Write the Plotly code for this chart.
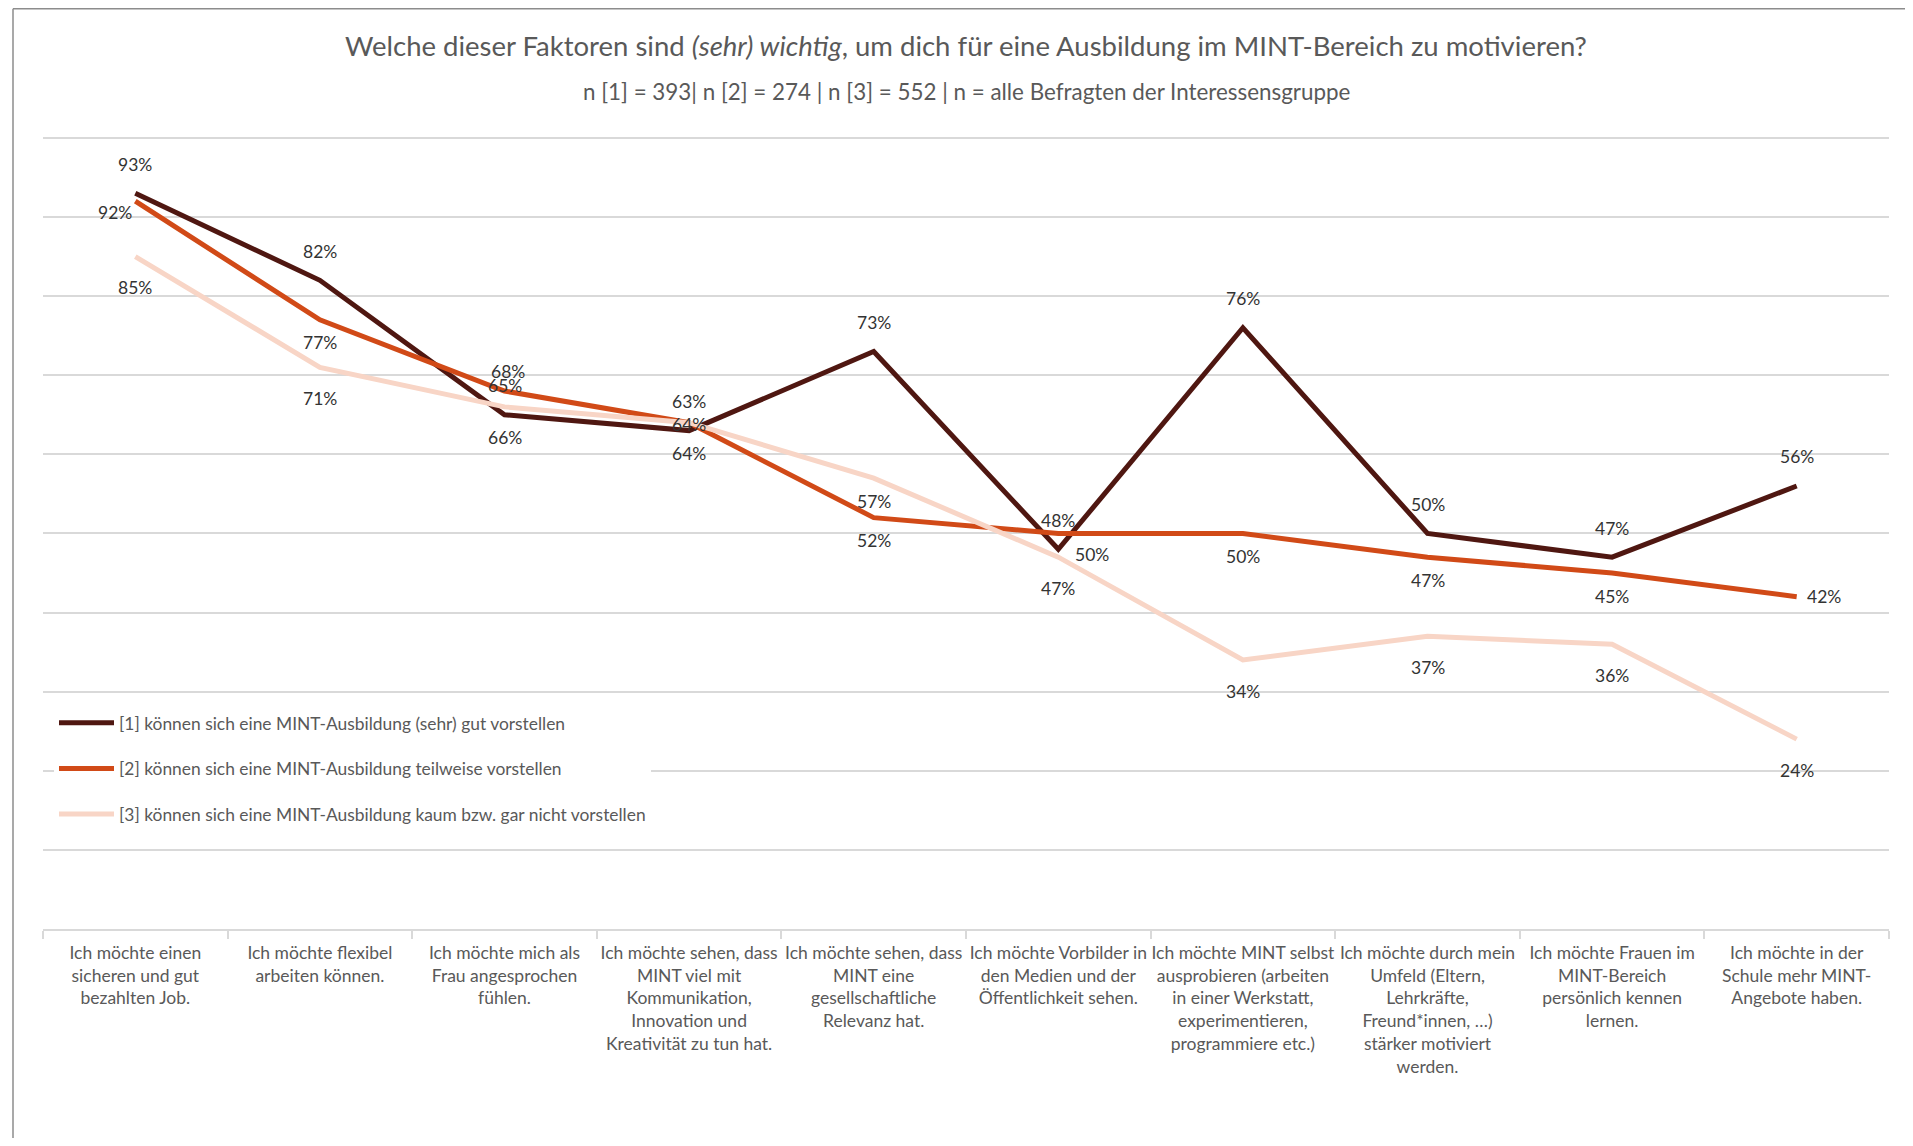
import plotly.graph_objects as go

kategorien = [
    "Ich möchte einen<br>sicheren und gut<br>bezahlten Job.",
    "Ich möchte flexibel<br>arbeiten können.",
    "Ich möchte mich als<br>Frau angesprochen<br>fühlen.",
    "Ich möchte sehen, dass<br>MINT viel mit<br>Kommunikation,<br>Innovation und<br>Kreativität zu tun hat.",
    "Ich möchte sehen, dass<br>MINT eine<br>gesellschaftliche<br>Relevanz hat.",
    "Ich möchte Vorbilder in<br>den Medien und der<br>Öffentlichkeit sehen.",
    "Ich möchte MINT selbst<br>ausprobieren (arbeiten<br>in einer Werkstatt,<br>experimentieren,<br>programmiere etc.)",
    "Ich möchte durch mein<br>Umfeld (Eltern,<br>Lehrkräfte,<br>Freund*innen, …)<br>stärker motiviert<br>werden.",
    "Ich möchte Frauen im<br>MINT-Bereich<br>persönlich kennen<br>lernen.",
    "Ich möchte in der<br>Schule mehr MINT-<br>Angebote haben.",
]

werte_1 = [93, 82, 65, 63, 73, 48, 76, 50, 47, 56]
werte_2 = [92, 77, 68, 64, 52, 50, 50, 47, 45, 42]
werte_3 = [85, 71, 66, 64, 57, 47, 34, 37, 36, 24]

namen = [
    "[1] können sich eine MINT-Ausbildung (sehr) gut vorstellen",
    "[2] können sich eine MINT-Ausbildung teilweise vorstellen",
    "[3] können sich eine MINT-Ausbildung kaum bzw. gar nicht vorstellen",
]
farben = ["#4f1711", "#d14a17", "#f8d5c6"]

# Lage der Datenbeschriftungen je Reihe (wie im Original teils von Hand verschoben)
lage_1 = ["oben"] * 10
lage_2 = ["links", "unten", "oben2", "mitte", "unten", "rechtsunten",
          "unten", "unten", "unten", "rechts"]
lage_3 = ["unten_weit"] * 4 + ["unten"] + ["unten_weit"] * 5
versatz = {  # xanchor, xshift, yshift
    "oben": ("center", 0, 29),
    "oben2": ("center", 3, 20),
    "unten": ("center", 0, -23),
    "unten_weit": ("center", 0, -31),
    "mitte": ("center", 0, -2),
    "links": ("right", -1, -11),
    "rechts": ("left", 8, 0),
    "rechtsunten": ("left", 15, -21),
}

# Seite hat 8px Rand (body), daher alles in Seitenpixeln rechnen und umrechnen
O = 8
W, H = 1913 - 2 * O, 1146 - 2 * O
Y_MAX = 101
L, R = 43 - O, W - (1889 - O)
B = H - (929 - O)
T = (929 - O) - round((929 - 138) * Y_MAX / 100)
pw, ph = W - L - R, H - T - B

def px_x(px):
    return (px - O - L) / pw

def px_y(py):
    return (H - B - (py - O)) / ph

grau = "#595959"
font = "Lato, Open Sans, sans-serif"

fig = go.Figure()
for werte, name, farbe in zip([werte_1, werte_2, werte_3], namen, farben):
    fig.add_trace(go.Scatter(
        x=kategorien, y=werte, mode="lines", name=name, legendgroup=name,
        line=dict(color=farbe, width=5), hoverinfo="skip",
    ))

for werte, lagen in zip([werte_1, werte_2, werte_3], [lage_1, lage_2, lage_3]):
    for kat, w, lg in zip(kategorien, werte, lagen):
        xa, xs, ys = versatz[lg]
        fig.add_annotation(
            x=kat, y=w, text=f"{w}%", showarrow=False,
            xanchor=xa, yanchor="middle", xshift=xs, yshift=ys,
            font=dict(family=font, size=17.5, color="#333333"),
        )

fig.add_annotation(
    text="n [1] = 393| n [2] = 274 | n [3] = 552 | n = alle Befragten der Interessensgruppe",
    xref="paper", yref="paper", x=0.5, y=px_y(92), showarrow=False,
    xanchor="center", yanchor="middle",
    font=dict(family=font, size=22.4, color=grau),
)

# Rahmen des Diagrammbereichs (oben und links)
rahmen = dict(color="#8c8c8c", width=1.5)
fig.add_shape(type="line", xref="paper", yref="paper",
              x0=px_x(13), x1=px_x(1913), y0=px_y(O + 0.8), y1=px_y(O + 0.8), line=rahmen)
fig.add_shape(type="line", xref="paper", yref="paper",
              x0=px_x(13), x1=px_x(13), y0=px_y(O + 0.8), y1=px_y(1146), line=rahmen)

fig.update_layout(
    width=W, height=H,
    margin=dict(l=L, r=R, t=T, b=B, autoexpand=False),
    paper_bgcolor="white", plot_bgcolor="white",
    font=dict(family=font, color=grau),
    title=dict(
        text="Welche dieser Faktoren sind <i>(sehr) wichtig</i>, um dich für eine Ausbildung im MINT-Bereich zu motivieren?",
        xref="paper", x=0.5, xanchor="center",
        yref="container", y=1 - (46 - O) / H, yanchor="middle",
        font=dict(family=font, size=27.5, color=grau),
    ),
    showlegend=True,
    legend=dict(
        x=px_x(54), y=px_y(705), xanchor="left", yanchor="top",
        bgcolor="white", font=dict(family=font, size=17.4, color=grau),
        itemwidth=55, tracegroupgap=20, traceorder="grouped",
    ),
    xaxis=dict(
        type="category", range=[-0.5, 9.5], tickangle=0, automargin=False,
        showgrid=False, showline=True, linecolor="#d9d9d9", linewidth=1.5,
        ticks="outside", tickson="boundaries", ticklen=8, tickcolor="#d9d9d9",
        tickwidth=1.5, tickfont=dict(family=font, size=17.5, color=grau),
        ticklabelstandoff=7, fixedrange=True,
    ),
    yaxis=dict(
        range=[0, Y_MAX], dtick=10, showticklabels=False, automargin=False,
        showgrid=True, gridcolor="#d9d9d9", gridwidth=1.5,
        zeroline=False, fixedrange=True,
    ),
)

fig.write_html("out.html")
